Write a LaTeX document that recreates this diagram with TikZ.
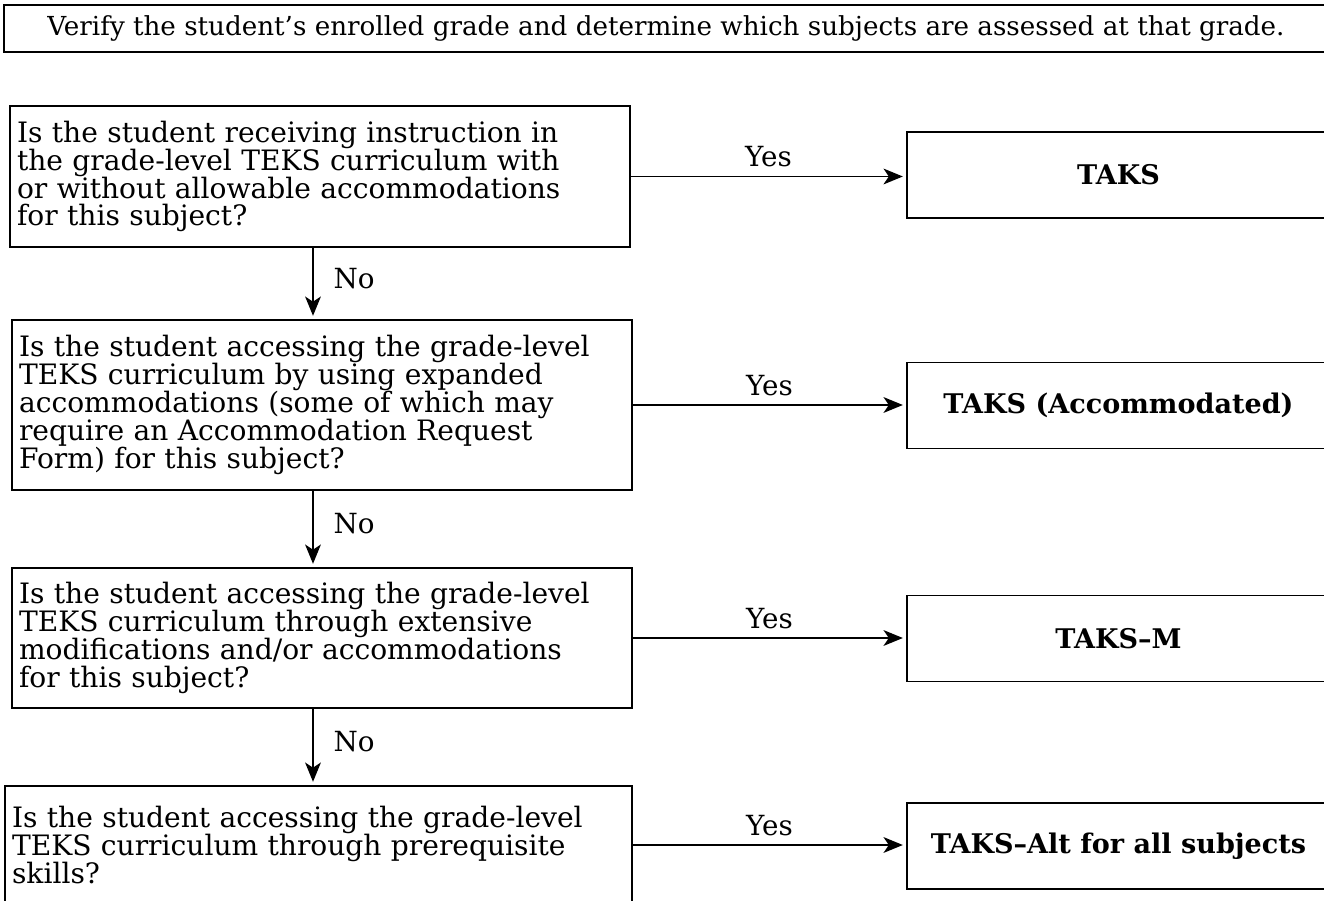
\documentclass[tikz,border=0pt]{standalone}
\usepackage{fontspec}
\setmainfont{DejaVu Serif}
\usetikzlibrary{arrows.meta}
\usetikzlibrary{positioning}

\tikzset{
  question/.style={draw, line width=0.8pt, align=left, inner xsep=0.14cm,
    font=\fontsize{16}{15.9}\selectfont},
  result/.style={draw, line width=0.8pt, minimum width=8.46cm, minimum height=1.72cm,
    font=\fontsize{15.4}{15.9}\selectfont\bfseries},
  flow/.style={-{Stealth[length=11pt,width=9pt,inset=3pt]}, line width=0.8pt, shorten >=2pt},
  lbl/.style={font=\fontsize{15.8}{15.9}\selectfont},
}

\begin{document}
\begin{tikzpicture}[x=0.02cm, y=-0.02cm]
  \useasboundingbox (0,0) rectangle (1324,901);
  \clip (0,0) rectangle (1324,901);
  \node (top) at (666,28.5) [draw, line width=0.8pt, minimum width=26.48cm, minimum height=0.94cm,
    font=\fontsize{14.9}{15}\selectfont]
    {Verify the student's enrolled grade and determine which subjects are assessed at that grade.};
  \node (b1) at (320,176.5) [question, text width=12.12cm, minimum height=2.82cm]
    {Is the student receiving instruction in\\ the grade-level TEKS curriculum with\\
     or without allowable accommodations\\ for this subject?};
  \node (b2) at (322,405) [question, text width=12.12cm, minimum height=3.4cm]
    {Is the student accessing the grade-level\\ TEKS curriculum by using expanded\\
     accommodations (some of which may\\ require an Accommodation Request\\
     Form) for this subject?};
  \node (b3) at (322,638) [question, text width=12.12cm, minimum height=2.8cm]
    {Is the student accessing the grade-level\\ TEKS curriculum through extensive\\
     modifications and/or accommodations\\ for this subject?};
  \node (b4) at (318.5,845) [question, text width=12.26cm, minimum height=2.36cm]
    {Is the student accessing the grade-level\\ TEKS curriculum through prerequisite\\
     skills?};
  \node (r1) at (1118.5,175) [result] {TAKS};
  \node (r2) at (1118.5,405.5) [result] {TAKS (Accommodated)};
  \node (r3) at (1118.5,638.5) [result] {TAKS--M};
  \node (r4) at (1118.5,846) [result] {TAKS--Alt for all subjects};
  \coordinate (spine) at (313,0);
  % yes branches
  \draw[flow] (b1.east) -- node[lbl, above=0.06cm] {Yes} (b1.east -| r1.west);
  \draw[flow] (b2.east) -- node[lbl, above=0.06cm] {Yes} (b2.east -| r2.west);
  \draw[flow] (b3.east) -- node[lbl, above=0.06cm] {Yes} (b3.east -| r3.west);
  \draw[flow] (b4.east) -- node[lbl, above=0.06cm] {Yes} (b4.east -| r4.west);
  % no branches
  \draw[flow] (b1.south -| spine) -- node[lbl, right=0.28cm, yshift=3pt] {No} (b2.north -| spine);
  \draw[flow] (b2.south -| spine) -- node[lbl, right=0.28cm, yshift=3pt] {No} (b3.north -| spine);
  \draw[flow] (b3.south -| spine) -- node[lbl, right=0.28cm, yshift=3pt] {No} (b4.north -| spine);
\end{tikzpicture}
\end{document}
